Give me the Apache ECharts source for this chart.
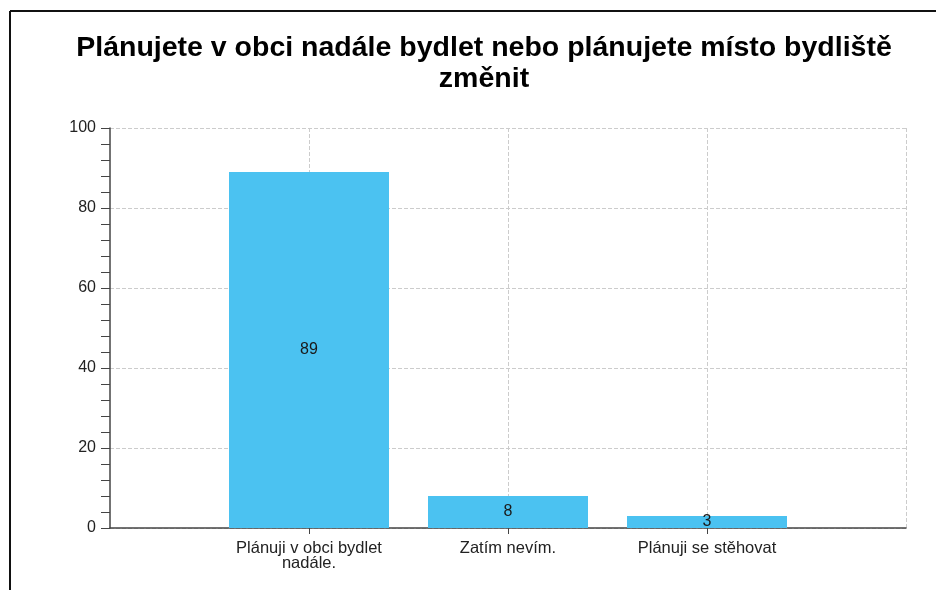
<!DOCTYPE html>
<html><head><meta charset="utf-8">
<script src="https://cdn.jsdelivr.net/npm/echarts@6/dist/echarts.min.js"></script>
<style>html,body{margin:0;padding:0;background:#fff}#c{width:936px;height:590px}</style>
</head><body><div id="c"></div>
<script>
const titleText = 'Plánujete v obci nadále bydlet nebo plánujete místo bydliště\nzměnit';
const categories = ['Plánuji v obci bydlet\nnadále.', 'Zatím nevím.', 'Plánuji se stěhovat'];
const values = [89, 8, 3];
const yTicks = [0, 20, 40, 60, 80, 100];

const axisCats = [''].concat(categories, ['']);
const barData = [null].concat(values, [null]);

const chart = echarts.init(document.getElementById('c'), null, {renderer: 'canvas'});
chart.setOption({
  animation: false,
  backgroundColor: '#fff',
  title: {
    text: titleText, left: 479, textAlign: 'center', top: 28,
    textStyle: {fontFamily: 'Liberation Sans', fontWeight: 'bold', fontSize: 28.5, color: '#000', lineHeight: 31}
  },
  graphic: [
    {type: 'line', shape: {x1: 10, y1: 11, x2: 936, y2: 11}, style: {stroke: '#111', lineWidth: 2}},
    {type: 'line', shape: {x1: 10, y1: 11, x2: 10, y2: 590}, style: {stroke: '#111', lineWidth: 2}}
  ],
  grid: {left: 110, right: 30, top: 128, bottom: 62},
  xAxis: {
    type: 'category', data: axisCats, boundaryGap: false,
    axisLine: {lineStyle: {color: '#444', width: 1.5}},
    axisTick: {show: true, length: 6, interval: (i) => i >= 1 && i <= 3, lineStyle: {color: '#444'}},
    axisLabel: {interval: 0, fontFamily: 'Liberation Sans', fontSize: 16.5, color: '#222', margin: 13, lineHeight: 15},
    splitLine: {show: true, interval: (i) => i >= 1, lineStyle: {color: '#ccc', type: 'dashed'}}
  },
  yAxis: {
    type: 'value', min: yTicks[0], max: yTicks[yTicks.length - 1], interval: 20,
    axisLine: {show: true, lineStyle: {color: '#444', width: 1.5}},
    axisTick: {show: true, inside: false, length: 9, lineStyle: {color: '#444'}},
    minorTick: {show: true, splitNumber: 5, length: 9, lineStyle: {color: '#444'}},
    axisLabel: {fontFamily: 'Liberation Sans', fontSize: 16, color: '#222', margin: 14},
    splitLine: {show: true, lineStyle: {color: '#ccc', type: 'dashed'}}
  },
  series: [{
    type: 'bar', data: barData, barWidth: 160,
    itemStyle: {color: '#4BC2F1'},
    label: {show: true, position: 'inside', fontFamily: 'Liberation Sans', fontSize: 16, color: '#1a1a1a'}
  }]
});
</script></body></html>
